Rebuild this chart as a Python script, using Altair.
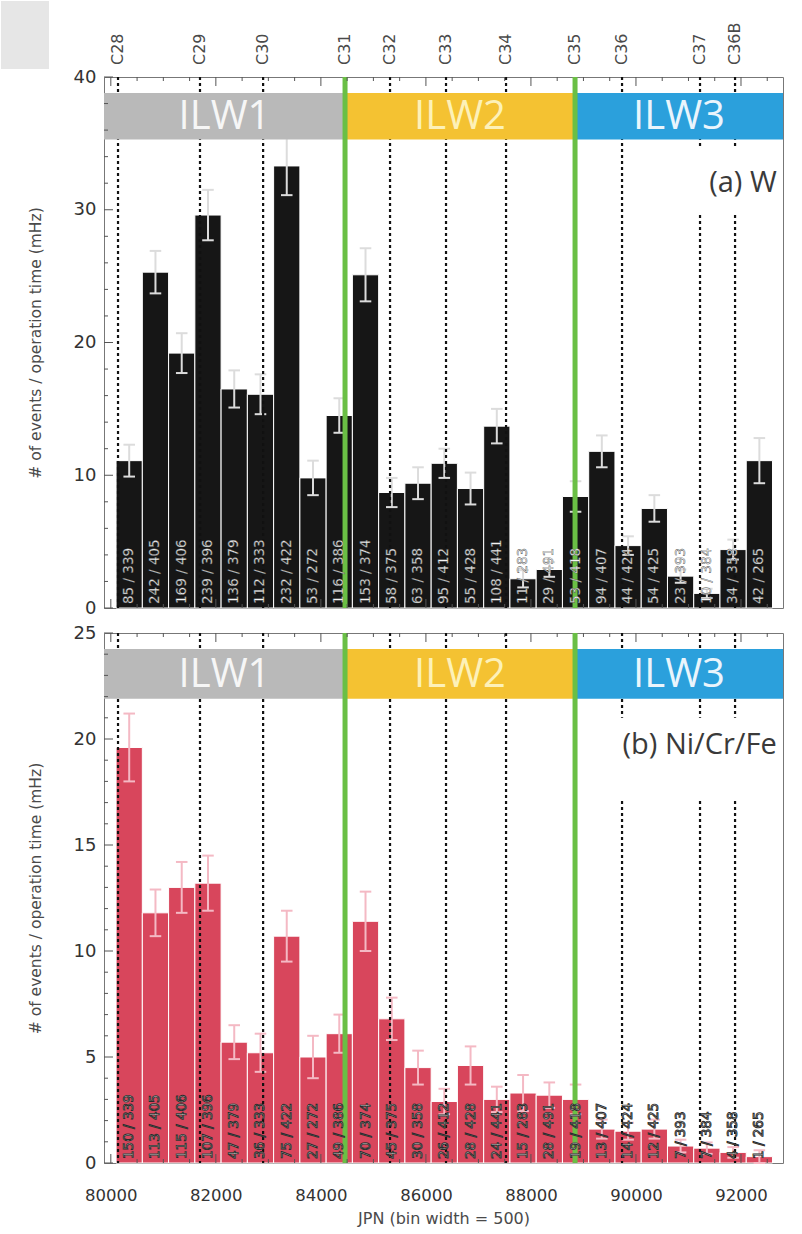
import altair as alt
import pandas as pd

# ---------------- data ----------------
JPN_MIN, JPN_MAX = 79870, 92800

bin_start = [80100, 80600, 81100, 81600, 82100, 82600, 83100, 83600, 84100, 84600,
             85100, 85600, 86100, 86600, 87100, 87600, 88100, 88600, 89100, 89600,
             90100, 90600, 91100, 91600, 92100]
denominators = [339, 405, 406, 396, 379, 333, 422, 272, 386, 374, 375, 358, 412,
                428, 441, 283, 491, 418, 407, 424, 425, 393, 384, 358, 265]

w_events = [85, 242, 169, 239, 136, 112, 232, 53, 116, 153, 58, 63, 95, 55, 108,
            11, 29, 53, 94, 44, 54, 23, 10, 34, 42]
w_rate = [11.1, 25.3, 19.2, 29.6, 16.5, 16.1, 33.3, 9.8, 14.5, 25.1, 8.7, 9.4, 10.9,
          9.0, 13.7, 2.2, 2.9, 8.4, 11.8, 4.7, 7.5, 2.4, 1.1, 4.4, 11.1]
w_err = [1.2, 1.6, 1.5, 1.9, 1.4, 1.5, 2.2, 1.3, 1.3, 2.0, 1.1, 1.2, 1.1, 1.2, 1.3,
         0.65, 0.55, 1.15, 1.2, 0.7, 1.0, 0.5, 0.35, 0.75, 1.7]

ni_events = [150, 113, 115, 107, 47, 36, 75, 27, 49, 70, 45, 30, 26, 28, 24, 15, 28,
             19, 13, 14, 12, 7, 7, 4, 1]
ni_rate = [19.6, 11.8, 13.0, 13.2, 5.7, 5.2, 10.7, 5.0, 6.1, 11.4, 6.8, 4.5, 2.9, 4.6,
           3.0, 3.3, 3.2, 3.0, 1.6, 1.5, 1.6, 0.8, 0.7, 0.5, 0.3]
ni_err = [1.6, 1.1, 1.2, 1.3, 0.8, 0.9, 1.2, 1.0, 0.9, 1.4, 1.0, 0.8, 0.6, 0.9, 0.6,
          0.85, 0.6, 0.7, 0.45, 0.4, 0.45, 0.3, 0.27, 0.25, 0.3]

campaigns = ["C28", "C29", "C30", "C31", "C32", "C33", "C34", "C35", "C36", "C37", "C36B"]
campaign_jpn = [80137, 81698, 82900, 84460, 85317, 86383, 87526, 88840, 89735, 91220, 91887]

ilw_names = ["ILW1", "ILW2", "ILW3"]
ilw_start = [JPN_MIN, 84460, 88840]
ilw_end = [84460, 88840, JPN_MAX]
ilw_fill = ["#b9b9b9", "#f4c232", "#2ba0dc"]
ilw_text = ["#f6f6f6", "#fdf1b8", "#eaf5fc"]
green_jpn = [84460, 88840]

x_ticks = [80000, 82000, 84000, 86000, 88000, 90000, 92000]
x_minor = [80500, 81000, 81500, 82500, 83000, 83500, 84500, 85000, 85500, 86500,
           87000, 87500, 88500, 89000, 89500, 90500, 91000, 91500, 92500]
ya_ticks = [0, 10, 20, 30, 40]
ya_minor = [2, 4, 6, 8, 12, 14, 16, 18, 22, 24, 26, 28, 32, 34, 36, 38]
yb_ticks = [0, 5, 10, 15, 20, 25]
yb_minor = [1, 2, 3, 4, 6, 7, 8, 9, 11, 12, 13, 14, 16, 17, 18, 19, 21, 22, 23, 24]

W, HA, HB = 679, 531, 530
YTITLE = "# of events / operation time (mHz)"
TICK_COLOR = "#555555"

xscale = alt.Scale(domain=[JPN_MIN, JPN_MAX], nice=False, zero=False)


def tick_layers(ymajor, yminor, height):
    layers = []
    for vals, ln in ((ymajor, 9), (yminor, 4)):
        d = pd.DataFrame({"v": vals})
        layers.append(alt.Chart(d).mark_rule(color=TICK_COLOR, strokeWidth=1).encode(
            y="v:Q", x=alt.value(0), x2=alt.value(ln)))
    for vals, ln in ((x_ticks, 9), (x_minor, 4)):
        d = pd.DataFrame({"v": vals})
        layers.append(alt.Chart(d).mark_rule(color=TICK_COLOR, strokeWidth=1).encode(
            x="v:Q", y=alt.value(0), y2=alt.value(ln)))
        layers.append(alt.Chart(d).mark_rule(color=TICK_COLOR, strokeWidth=1).encode(
            x="v:Q", y=alt.value(height - ln), y2=alt.value(height)))
    return layers


def panel(rates, errs, events, ymax, yticks, yminor, band, bar_color, err_color,
          lab_fill, lab_stroke, lab_sw, tag, tag_y, tag_box, height, bottom_axis, top_extra):
    df = pd.DataFrame({"start": bin_start, "rate": rates, "err": errs})
    df["end"] = df["start"] + 500
    df["mid"] = df["start"] + 250
    df["lo"] = df["rate"] - df["err"]
    df["hi"] = df["rate"] + df["err"]
    df["capl"] = df["mid"] - 110
    df["capr"] = df["mid"] + 110
    df["zero"] = 0
    df["label"] = [f"{n} / {d}" for n, d in zip(events, denominators)]

    yscale = alt.Scale(domain=[0, ymax], nice=False, zero=True)
    if bottom_axis:
        xaxis = alt.Axis(values=x_ticks, format="d", title="JPN (bin width = 500)",
                         grid=False, ticks=False, domain=False, labelPadding=24,
                         labelFontSize=16.5, titleFontSize=16, titlePadding=7)
    else:
        xaxis = None
    yaxis = alt.Axis(values=yticks, title=YTITLE, grid=False, ticks=False, domain=False,
                     labelPadding=8, labelFontSize=18, titleFontSize=15.5, titlePadding=30)

    base = alt.Chart(df)
    bars = base.mark_rect(color=bar_color, stroke="white", strokeWidth=1).encode(
        x=alt.X("start:Q", scale=xscale, axis=xaxis),
        x2="end:Q",
        y=alt.Y("rate:Q", scale=yscale, axis=yaxis),
        y2="zero:Q",
    )
    err = base.mark_rule(color=err_color, strokeWidth=2).encode(x="mid:Q", y="lo:Q", y2="hi:Q")
    cap_hi = base.mark_rule(color=err_color, strokeWidth=2).encode(x="capl:Q", x2="capr:Q", y="hi:Q")
    cap_lo = base.mark_rule(color=err_color, strokeWidth=2).encode(x="capl:Q", x2="capr:Q", y="lo:Q")

    cdf = pd.DataFrame({"name": campaigns, "jpn": campaign_jpn})
    dashed = alt.Chart(cdf).mark_rule(color="#111111", strokeDash=[3, 3], strokeWidth=2.2).encode(
        x="jpn:Q")

    bdf = pd.DataFrame({"name": ilw_names, "start": ilw_start, "end": ilw_end,
                        "fill": ilw_fill, "tfill": ilw_text})
    bdf["mid"] = (bdf["start"] + bdf["end"]) / 2
    bdf["ylo"] = band[0]
    bdf["yhi"] = band[1]
    bdf["ymid"] = (band[0] + band[1]) / 2
    band_rect = alt.Chart(bdf).mark_rect().encode(
        x="start:Q", x2="end:Q", y="yhi:Q", y2="ylo:Q",
        color=alt.Color("fill:N", scale=None))
    band_text = alt.Chart(bdf).mark_text(font="Open Sans", fontSize=40, baseline="middle",
                                         dy=1).encode(
        x="mid:Q", y="ymid:Q", text="name:N", color=alt.Color("tfill:N", scale=None))

    gdf = pd.DataFrame({"jpn": green_jpn})
    green = alt.Chart(gdf).mark_rule(color="#6abf45", strokeWidth=5).encode(x="jpn:Q")

    tdf = pd.DataFrame({"tag": [tag], "x": [JPN_MAX - 120], "y": [tag_y],
                        "bx1": [tag_box[0]], "bx2": [JPN_MAX - 20],
                        "by1": [tag_box[1]], "by2": [tag_box[2]]})
    tag_bg = alt.Chart(tdf).mark_rect(color="white").encode(
        x="bx1:Q", x2="bx2:Q", y="by1:Q", y2="by2:Q")
    tag_text = alt.Chart(tdf).mark_text(font="Open Sans", fontSize=29, align="right",
                                        baseline="middle", color="#3a3a3a").encode(
        x="x:Q", y="y:Q", text="tag:N")

    labels = base.mark_text(angle=270, align="left", baseline="middle", dx=4,
                            font="DejaVu Sans", fontSize=13.5, fill=lab_fill,
                            stroke=lab_stroke, strokeWidth=lab_sw).encode(
        x="mid:Q", y="zero:Q", text="label:N")

    layers = ([bars, err, cap_hi, cap_lo, dashed, band_rect, band_text, green,
               tag_bg, tag_text, labels] + tick_layers(yticks, yminor, height)
              + top_extra(cdf))
    return alt.layer(*layers).properties(width=W, height=height)


def top_a(cdf):
    clabels = alt.Chart(cdf).mark_text(angle=270, align="left", baseline="middle",
                                       font="DejaVu Sans", fontSize=16,
                                       color="#4a4a4a").encode(
        x="jpn:Q", y=alt.value(-12), text="name:N")
    pin = alt.Chart(pd.DataFrame({"k": [0]})).mark_rect(color="#e6e6e6").encode(
        x=alt.value(-103), x2=alt.value(-55), y=alt.value(-76), y2=alt.value(-8))
    return [clabels, pin]


def top_b(cdf):
    pin = alt.Chart(pd.DataFrame({"k": [0]})).mark_rect(color="white").encode(
        x=alt.value(-103), x2=alt.value(-100), y=alt.value(0), y2=alt.value(2))
    return [pin]


pa = panel(w_rate, w_err, w_events, 40, ya_ticks, ya_minor, (35.3, 38.8),
           "#161616", "#dcdcdc", "#f4f4f4", "#444444", 0.4,
           "(a) W", 32.0, (90100, 34.6, 29.6), HA, False, top_a)
pb = panel(ni_rate, ni_err, ni_events, 25, yb_ticks, yb_minor, (21.9, 24.25),
           "#d8465c", "#f4b9c4", "#f2f2f2", "#2a2a2a", 0.9,
           "(b) Ni/Cr/Fe", 19.7, (88950, 21.0, 17.1), HB, True, top_b)

chart = alt.vconcat(pa, pb, spacing=5).properties(
    padding=0, background="white"
).configure_view(stroke="#777777", strokeWidth=1).configure_axis(
    labelFont="DejaVu Sans", titleFont="DejaVu Sans", labelColor="#333333",
    titleColor="#4a4a4a", titleFontWeight="normal"
)

chart.save("out.html", embed_options={"renderer": "svg", "actions": False})
